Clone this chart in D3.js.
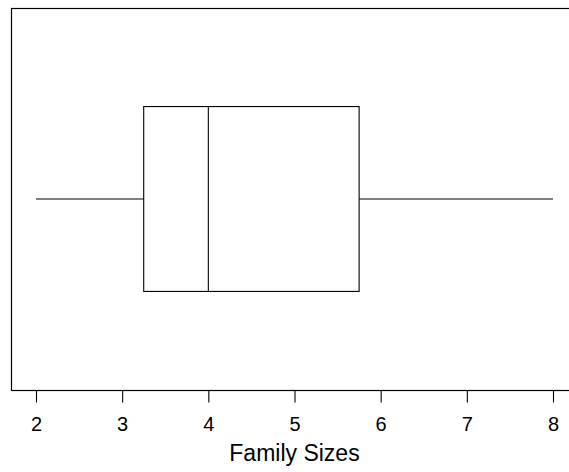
<!DOCTYPE html>
<html><head><meta charset="utf-8">
<script src="https://cdn.jsdelivr.net/npm/d3@7"></script>
<style>body{margin:0;background:#fff}svg{display:block}</style>
</head><body>
<svg id="c" width="569" height="472"></svg>
<script>
const statNames = ["min","q1","median","q3","max"];
const statValues = [2, 3.25, 4, 5.75, 8];
const tickValues = [2,3,4,5,6,7,8];
const xLabel = "Family Sizes";

(function(){
const s = Object.fromEntries(statNames.map((n,i)=>[n,statValues[i]]));
const svg = d3.select("#c");
const mLeft = 11, mTop = 8, mRight = 600, mBottom = 390;
const x = d3.scaleLinear().domain([2,8]).range([36,553]);
const y = d3.scaleLinear().domain([0.5,1.5]).range([mBottom, mTop]);
const half = 0.242;
const font = "'Liberation Sans', Arial, sans-serif";

svg.append("rect").attr("x",mLeft+0.5).attr("y",mTop+0.5).attr("width",mRight-mLeft).attr("height",mBottom-mTop)
  .attr("fill","none").attr("stroke","#000").attr("stroke-width",1.2);

const g = svg.append("g").attr("stroke","#000").attr("stroke-width",1.1).attr("fill","none");
const cy = y(1);
g.append("line").attr("x1",x(s.min)).attr("x2",x(s.q1)).attr("y1",cy).attr("y2",cy);
g.append("line").attr("x1",x(s.q3)).attr("x2",x(s.max)).attr("y1",cy).attr("y2",cy);
g.append("rect").attr("x",x(s.q1)).attr("y",y(1+half)).attr("width",x(s.q3)-x(s.q1)).attr("height",y(1-half)-y(1+half));
g.append("line").attr("x1",x(s.median)).attr("x2",x(s.median)).attr("y1",y(1+half)).attr("y2",y(1-half));

const ax = svg.append("g").attr("transform",`translate(0,${mBottom+0.5})`)
  .call(d3.axisBottom(x).tickValues(tickValues).tickSize(12).tickPadding(14).tickFormat(d3.format("d")));
ax.select(".domain").remove();
ax.selectAll(".tick line").attr("stroke","#000").attr("stroke-width",1.1);
ax.selectAll(".tick text").attr("font-family",font).attr("font-size",20).attr("fill","#000");

svg.append("text").attr("x",x(5)).attr("y",461).attr("text-anchor","middle")
  .attr("font-family",font).attr("font-size",23).attr("fill","#000").text(xLabel);
})();
</script>
</body></html>
